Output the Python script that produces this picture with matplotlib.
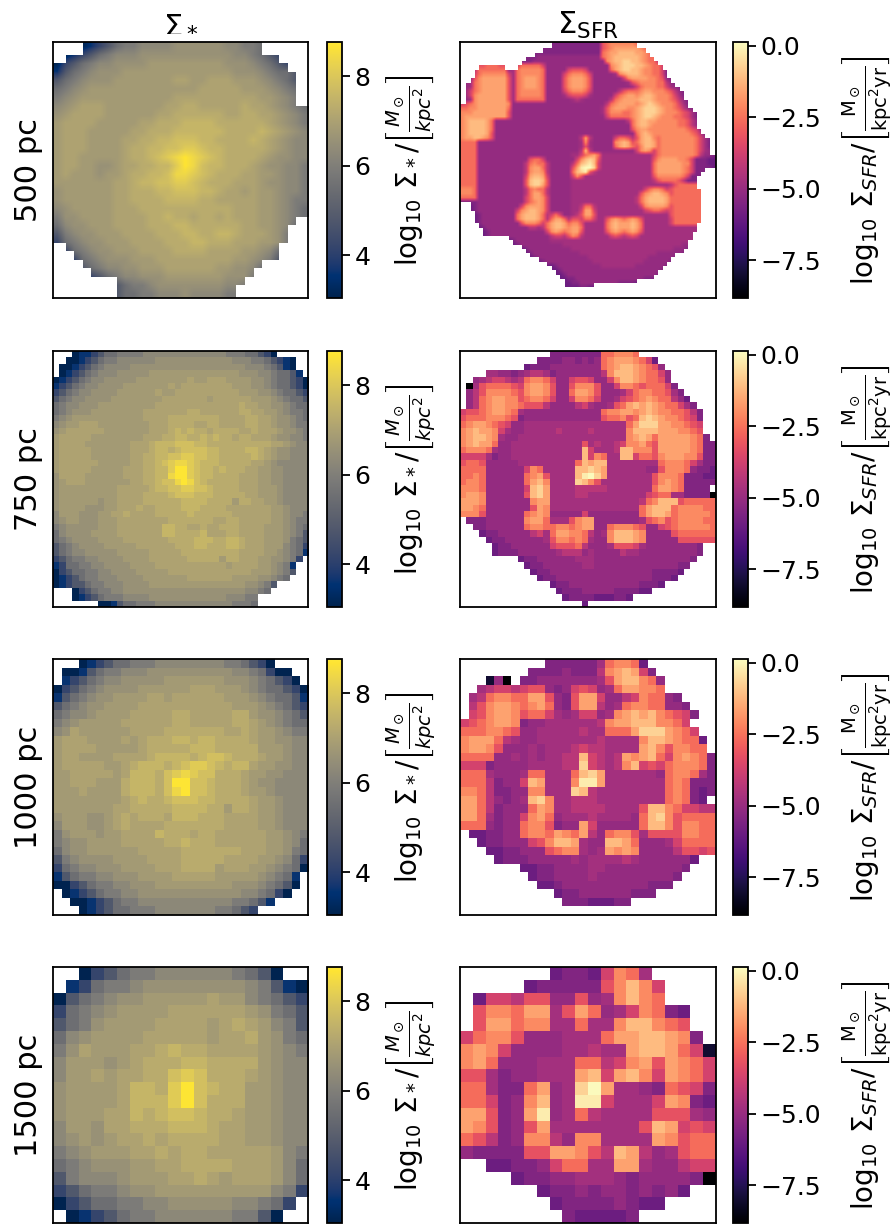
import re
import numpy as np
import matplotlib
matplotlib.use('Agg')
import matplotlib.pyplot as plt

resolutions = ['500 pc', '750 pc', '1000 pc', '1500 pc']

# one letter per cell, "." is no data, "12c" is twelve cells of c
stellar_levels = {'A': 3.1, 'B': 3.6, 'C': 4.2, 'D': 4.8, 'E': 5.5, 'F': 5.9, 'G': 6.3, 'H': 6.55,
                  'I': 6.8, 'J': 7.05, 'K': 7.3, 'L': 7.55, 'M': 7.8, 'N': 8.1, 'O': 8.4, 'P': 8.7}
sfr_levels = {'K': -8.8, 'z': -8.0, 'a': -5.95, 'b': -5.5, 'c': -5.05, 'd': -4.75, 'e': -4.25, 'f': -3.7,
              'g': -3.2, 'h': -2.6, 'i': -2.05, 'j': -1.6, 'k': -1.15, 'l': -0.7, 'm': -0.2, 'n': 0.1}

stellar_500 = [
    "...ABCDEFFGGGGHHHHHHGGFFE.....",
    ".ABCDEFGGGHHHHHHHHHHHGGFEDC...",
    "ACDEFGGHHHHIIIIIIIIIHHHGFEDC..",
    "BDEFGHHHIIIIIIIIIIIIIHHHGFEED.",
    "DEFGHHHIIIIIIIJJIIJJJIIIHGFED.",
    "EFGHIIIIIIIIIIIIIJJJJJIIIHGFE.",
    "FGHIIIIIIIIIIIJJJJJJJJJJIIHGF.",
    "GHIJJJIIIIIIIJJKKJJJJJKJJIHGFE",
    "HIJJJJIIIIIIJJKKKKKKJJKKJJIHGF",
    "IJJJJIIIIIJJKKKLLLLKKKKKKJIHGF",
    "IJJJIIIIIJJKKKLLLLLLKKKKLKJIHG",
    "IJJJIIIIJJKKLLMMMLLKKKKLKJIHGG",
    "IJJJIIIIJKKLLMMNNMLLKKKKKJIHGG",
    "IJJIIIIIJKKLMNOPONMLKKKKJIHHGG",
    "IJJIIHHIJJKKLLNPOMLLKKKJIHHGGF",
    "IJIIIHIIJKKLLMOONMLKKKJJIIHGGF",
    "IIIIIIIJJKLLMMNNMLKKKJJJIHHGGF",
    "HIIIIIIJJKKKLLMMMLLKJJIJIIHGGF",
    "HIIIIIIJJKKKKLLLLKKJJJJJIIHGFF",
    "GHIIIIIJJJKKKKKKKKKKKJJJIIHGFE",
    "FHHIIIIJJJJKKLKKJKKJKJJJIIHGFE",
    "EGHHIIIJJJJKKKLLKKKKKKJJIIHGE.",
    "DFGHHIIIJJJJKKKLLKKLLKJJJIHF..",
    "CEFGHHIIIJJJJKKKLLKKKJJJIIHF..",
    ".CEFGHHIIIJJJJKKKKJJJJIIHGE...",
    "..CEFGHHHIIIJJJJJJJJJIIHGFD...",
    "...DEFGGHHIIIJJJJJJIIHHGE.....",
    "....CDEFGGHHHIIIIIIIHHHF......",
    ".......DEFFGHHHHHHHHGGF.......",
    ".......DEEFFGGGHGGGGFF........",
]
stellar_750 = [
    "...ABBCDEEFFFFGGGGGGGGGGGGGFFFEEDCA.....",
    "..AABCDEFFGGGGGGHHHHHHHHHHHHGGGFFEDCBA..",
    ".AABCDEFGGGGHHHHHHHHHHHHHHHHHHGGGFEDBA..",
    ".ABCDEFGGGHHHHHIIIIIIIIIIIIIIHHHGGFEEDB.",
    "ABCDEFGGHHHHHIIIIIIIIJIIJJJIIIIHHGFEEDCA",
    "BCDEFGGHHHHIIIIIIIJIJJJJJJJJIIIHHGFEEDCA",
    "CDEFGGHHHHIIIIIIJIIJJJJJJJJJJIIIHHGFEEDC",
    "DEFGGHHHHIIIIIIIIJJJJJJJIJJJJJJIIIHGFEED",
    "EFGGHHHIIIIIIIIIJJJJJJJJJJJJJKJJIIHHGFEE",
    "EFGHHHIIIIIIIIJJJJJJJKKJJJJJJKKJJIIHGFFE",
    "FGHIIIIIIIIIIIJJJJKKKKKKKKJJJJKKJJIHHGFE",
    "GHIIJJJIIIIIIIIJJJKKKKJJKKJJJJKKJJIHHGFF",
    "HIJJJJJJIIIIIIIJJJKLKLKKJKKKKJJKJJJIHHGF",
    "IJJJJJIIIIIIIIJJJKKLLKKLKLKKJKKJJJIHHGGF",
    "IJJJJIIIIIIIJJJKLLLMMMLLKKKKKKKKKKJJIHGG",
    "IJJJJJIIIIIIJJJKLLKLMMMMLLKKKKLLKJIHHGGG",
    "IJJJJJIIIIIIJJKKLLMMNNMMLLKKKKKLKJIHHGGG",
    "IJJJJJJIIIIIJJKKLMNOONMLLLKKKKKJJIHGGGGG",
    "IJJJJJIIIIIJJJKKLLNPPNMLLKLKKKJJIIHHGGGG",
    "HJJJJIIIIIIJJJKKLLOPPNMLLKKKKJJJIIHHGGGG",
    "HIJJJIIIIIIIJJKKLMMOPOMLKKKKKJJJIIHHGGGG",
    "HIIIIIIIIIJJJJJKLLMMNNMMLKKKKJJJIIIHGGGG",
    "HIIIIIIIIIJJJJKKKKLMMMLLLKKKKKJJIIIHGGGG",
    "HIIIIIIHIIJJJJKKKKKKLLLLKKKKIKKJJIIHGGGG",
    "HIIIIHHHIIJJJKJJKKKKLLLKKKKJJJJJJJIIHGGG",
    "GIIIHHHIIJJKJJJJKKKKKLKKKKKKJJJJJJIIHGGF",
    "GHIIHHHIIIJJJJJJJJKKKKKKKJJKKJJJJJIIHGFF",
    "FGHHHHHIIIJJJJJJJLLKKJJKJJKKKJJJJIIIHGFE",
    "EGHHHHIIIIJJJJJJJLLKKKKLJJJKKJJJJIIIHGFD",
    "EFGHHHHIIIIJJJJJJJKKKKLLLKKLLKJJJIIIHFED",
    "DEFGHHHHIIIIIJJJJJJKKKLLKKKLLKJJJIIIGFEC",
    "DEFGGHHHHHIIIIIJJJJJKKKKKKKKKJJJJIIHGFEB",
    "CDEFFGGHHHHIIIIJJJJJJKKKKKIKKJJJIIHHGFC.",
    "BCEEFFGGHHHHIIIIJJJJJJJJJJJIJJJJIIHGFB..",
    "ACDEEFFGGHHHHIIIIIJJJJJJJJJJJJJIIIHGFD..",
    "ABCDEFFGGGHHHHIIIIIIIJJJJJJJIIIIHHGFE...",
    "ABCDDEFFGGGHHHHIIIIIIIIIIIIIIIHHGFD.....",
    "...ACDEFFGGHHHHHHHHHHHHHHHHHHHGGFE......",
    "...ABCDEFFFGGGGHHHHHHHHHHHHGGGFF........",
    ".......AABDEEFFFGGGGGGGGGGGGFFFE........",
]
stellar_1000 = [
    "...ABCDEEFFFGGGGGGGGFFEDCA....",
    ".AABDEFFGGGHHHHHHHHHHGGFECAA..",
    ".BCDEFGGHHHHHIIIIIIIHHHGFEDCA.",
    "ACDEFGHHHHIIIIIIJJJIIIHGFEEDCA",
    "BDEFGHHIIIIJJIJJJJJJIIIHGFEEDB",
    "DEFGHHIIIIJJJJJJJJJJJIIIHGFEDC",
    "EFGGHIIIIJJJJJKKJJJJJKKIHHGFED",
    "FGHIIIIIJJJJJJKKJJJJJKKJIHGFEE",
    "GHJIIIIIIJJJJKKKKKKKJJKJIIHGFF",
    "IJJJIIIIJIJKKKLLKLLKKKKJIIHHGG",
    "IJJJJIIIIIJKKKKKLLLKKKKKIIIHGG",
    "IJJIIIIJJJJKLLLLKLMMLKKKJIIHGG",
    "IJJJJJIIJKLLLKLMNNMLKLLJIIHHGG",
    "IIJJJJJIJLLLKMNONMMKKKJIIHHGGG",
    "IIJJJIIIKLLLKMPPMMLKKKJIHHGGGG",
    "IIIJIIIIKLLLKMOPMMLKKKJIIHGGGG",
    "IIIIIIIIJKLKKLMMMLLKKKKJIIHGGG",
    "IIIIIIIJJKKKKKLLLLKKIKKJIIHGGG",
    "HIIIHHIJKJKKKJLLLKKKJJJJIIHGGG",
    "GIIIHHIJKJJJJKKKKKKKJJJJIIHGGG",
    "FHIIIHIIJJJJLKKKJKKJJJJJJIIHGF",
    "FGHHIIIIJJJJJKKLKKKJJJJJJIIHGE",
    "EGHHIIIIIIJJJJJKKKKKKKJJJIIHFE",
    "DFGHHHHIIIIJJJJKKKKKJJJJIIHGEC",
    "CEFGGHHHIIIIJJJKKKKIJJJIIHGFEA",
    "BDEFFGGHHHIIIIJJJJJIIIIIHGFEB.",
    "AACDEFFGGHHHIIIIIIIIIHHHGFEDA.",
    ".ABCDEFFGGHHHHHHHHHHHHGGFECA..",
    "..AABCDEFFGGGGGGGGGGGFFEDB....",
    "...ABCDEEFFFGGGGGGGFFEDC......",
]
stellar_1500 = [
    "..ACDEFFGGGGGGFEDA..",
    ".BCEFFGHHHHHHHHGFDBA",
    "ADEFGHHIIIIIJIIGFEDC",
    "CEFGHIIIIJJJJJJIHFED",
    "DEFHIIIIJJJJIJKJIGFD",
    "EGHIIIIJJJJJIJJKIHFE",
    "FHJIIIJJKLKKJJJJIHGF",
    "GIIIHIJKKKLLKKKKIHGG",
    "GIIJIJJKKMNMKKKJIHGG",
    "HIIIIJLLKNPMLKKIIHGG",
    "HIIIIJLLLNPMKKKIIHGG",
    "HIIIJJLKLMMLKKJIIHGG",
    "GIIHJJKKKLLLKJJIIHGG",
    "GHIHIJJKJKKKKJJIIHGG",
    "FGHIIIJJKJKKJJJJJIGF",
    "EFGHHHIIJJKKKKJJJIGE",
    "DFGGGHIIIJJKJIJJJIGE",
    "CDEFFGHHIIIIIIIIIGFC",
    "ACDEEFFGGHHHHHGGFEC.",
    ".ABCDEFFGGGGGGFFDA..",
]

sfr_500 = [
    "21.12bgh6ih18.", "19.14bghi6jih16.", "17.16bhi2j4k2jih15.", "15.3b15chij6kji2h14.",
    "14.3b17cij2k2l2kji2he13.", "4.2g3h2g2.f5hf15cijk3l2kji2hf12.",
    "3.e7hcdh5ih5cf3gf5chjk2l2kj2i2hfb11.", "3.fh6ifdh5ih4cfh3ihf5cdij3kj2i2hfb11.",
    "2.cgi6jgdhi3jih4cgi3jig7cfi4j2ihgcb10.", ".cdhi6jgdhi3jih4cgi3jig8cdgh4i2hecb9.",
    ".cdhi6jgdhi3jih4cgi3jig8ccdfh3i2hfdcb8.", ".dfhi6jgdh5ih4cfh3ihf6ceg3hi2j3ihgecb7.",
    ".dfi7jgdh5ih4cdf3gfd5cfhi2jij2kj3ihfdb7.", ".cdi7jgd7h6cded6cehi4j3kj3ihgecb6.",
    "fghi7ji22cehi4jijklkj3ihfdb6.", "2h2i7jh21cdgi3j2ijk3lkj2ihgecb5.",
    "3i8jg21cdg3i2hijk3lkj3ihgfdb4.", "i10jg22cf5hijk2lkj3i2hgfdb4.",
    "ij4kjh31cehj2k2j5i2hgec4.", "ij4kjh32chj2kj6i2hgec4.", "ij4kjh32cgi2j9ihgfc3.",
    "ij4kjg33chjkj9ihgeb2.", "i2j2kjig20ceje5cf2hgegj2kih8ihfdb.",
    "4hc23cdid5cijkjghj2kjh8ihfdb.", "4hc23cdgd5chjkjhgi2kjh8ihfdb.",
    "4hc23ceke10cfijifh8ihfdc.", "4hc21c2dfhijh12dfh8iheccb",
    "4hc11cg2hf7cfiklkg12dgi4j2ihf3b2a", "4hc10cehi2he5cehklmkf12dh6j2if3b2a",
    "4hc10cei2jhe5cgjm2nlf12dh6jihf4ba", "4hc10cei2jie5chklmged12dh6jihf3b2.",
    "4hc10cfj2kjf5cfig4d12dg6ihf3b3.", "4hc10cgk2lkg5c19deg4hge3b4.",
    "4hc10cgk2ljg5c19d4deg5h4.", "3ihc10cehi2he5c15d2dfh2ihfg7h3.",
    "3ihc10ceh2jhe5c15ddgij2kjig7h3.", "4hc10cfh2jif5c15dehj4kj8h3.",
    "4bc10cfhijif5c15dehj4kj8h2b.", "2.ab10cfi3jif5c2de2he9ddfi4jig7h3.",
    "2.ab9cfij2kjif5c2df2jf9d2dfg2hgfg7h3.", "3.ab8chj3kjhefhf2cdeg2jg9d8dg7h3.",
    "3.ab8chj3kjheh2jhe2gf2hf2dgijihijigd5df7h3.", "3.ab9cg3ihfhj2kjh2ig5dhjk3jkjhd5df7h3.",
    "4.ab10c2edehj2kji2jh5dhjk3jkjhd12d4.", "5.ab13cfijihi2jg5dgijihijig13d4.",
    "5.ab14ce2fegihe6dfgfefgf13d5.", "11.ab8c34d5.", "12.ab10c28d2c6.", "14.ab10c24d3cb6.",
    "15.ab11c18d6cb7.", "16.ab12c14d6cb9.", "18.ab11c12d6cb10.", "20.2ab10c8d7cb11.",
    "21.2ab23cb12.", "22.2ab21cb13.", "23.2a2b16c3b14.", "24.2a2b9c4ba18.", "24.4a2b2a28.",
    "60.", "60.",
]
sfr_750 = [
    "..............bbbbbbbbhhiiih............",
    "............bbbbccbcbchijjjihfa.........",
    "..........abbbcccccccchijkkjihgc........",
    "....ddccbcdeedbccccccceikkkjihhfc.......",
    "..cdeffedehiihfccfggfccfikkjihhgc.......",
    ".Kdghhhhgfijjigccgiiigccfiihghhhfb......",
    ".cegiiiihgijjigcchjjigcccdfhiihhgdb.....",
    ".cehijjiighiihfccfiihfccdfghijihheca....",
    ".cehijjiihgggeccccefdccdghjkjkjihhfdb...",
    "fgghijjihdcccccccccccchiijjijkjiihhgeb..",
    "ghhhiiihgbccccccccccccghhighklkjiihgfb..",
    "hijjihgfccddddddddddddddddhjllljjiihgf..",
    "ijkjjifdccdddddeddddedddddikkkkjjjiihg..",
    "ijkkjidccdddddddddddddddddijkjhjjjjjihb.",
    "ijkjjhccdddddddddddgdeddefiijhgjjjjjihbb",
    "hiiihdccdddddddddddkfdddekkiiigjjjjjihbb",
    "ffffdbccdddddddddddkfihddkkfhhgijjjiigbb",
    "ghhgcccccdddddddddhkjkkddddddddhiiihfdbb",
    "hhhhccccccfihdddddkklkjddddddccgiiihcbba",
    "hhihcccccchijgddddkmnljdddddddgiiihbbbaa",
    "hiihcccccchjkiddddlkigddddddddgijihbbbbb",
    "iiihccccccfkljddddeeeeedddddddhjjihbbbb.",
    "ijjiccccccgkljddddeedddddddddfghhddbbbbK",
    "jjjicccccccijjddddddddddddddehikkkghhhhh",
    "jjihcccccccgjiddddddddddddddhjkkkhiiiihh",
    "iiigcccccchijicccccfcccccccchjkkjhiiiiih",
    ".bbbccccccijjhdddgijjcccccccdghighiiiihh",
    "..bbcccccchiihhiihijjcchiiihgccfghiiiiih",
    "...abbcccccefdhjjiihecdikkkjiccccghhhhhh",
    "....abbccccccdgiihihdccikkkjicccccgggggg",
    ".....abbccccccfggghecccdgggfdccccccccb..",
    ".....abbbccccccdeeecdcccceddcccccccccb..",
    ".........abbccccccdddcccccccccccccccb...",
    "..........abbccccccddcccccccccccccbb....",
    "...........abbccccccccccccccccbbbba.....",
    "............abbcccccccccccccccbbba......",
    "..............abbcccccccccccbbba........",
    "...............abbbcccccbbbbaa..........",
    "................abbbbaaabba.............",
    "...................a....................",
]
sfr_1000 = [
    "..........bbbbbbdhiiha........",
    "........bbbbcbbbeijkjfb.......",
    "...zcK.bbcccccccdgjkkihc......",
    "..deffefggcbcfgfcdhjjiih......",
    ".dehiihhjjgcbgjjfccefihhcb....",
    ".egijjihijhcbgjjecdhiihhccb...",
    ".fgijjighhfdcdffcdijkjkihgfb..",
    "fghijjibccddddddeijjkkkiihf...",
    "hhhiihgccdddddeddhhhjllljihf..",
    "ijjjhedccdddddddeddddikkjihha.",
    "ijjigcccdcdddefeeddddjkigiihh.",
    "hhhhccdcdcddeekfedejijkhfijihb",
    "fffbccccddddeelfedeikfgfhiiihb",
    "hhhdcccdhhdddhkljddddddchiihdb",
    "hhhebccfkjdddimmjdddddddhihbbb",
    "iihebbcciidddlkeddddddddhihbab",
    "jjhecbcdkliddeeeddddddddhihba.",
    "jjhebccchjiddeeeeddddgkkihffee",
    "jjhdbccfijhcdddeddddchklighhhh",
    "hhhcbcchiigbccjfccccchkkigiihh",
    ".aabbcchiihjihjechiigdggggiihh",
    "..abbcccfgikkjdcckkjhcccdfhhhh",
    "...aabbcccghiidcdjijicccceggfg",
    "....abbbcccccdcddddedcccccca..",
    ".......aabbccccddcccccccccb...",
    "........abbccccdcccccccccb....",
    ".........aabccccccccccbbb.....",
    "...........abbccccccbbb.......",
    "............bbbaaabb..........",
    "..............................",
]
sfr_1500 = [
    ".......abbafihd.....",
    ".....abbbbbgikif....",
    ".affeggccgcdikih....",
    ".giihjjdgjhcdfihba..",
    ".gjjhiiddhddikkihg..",
    "fhiigcccdddhjjkkjib.",
    "ijifccccddeddjkkjhfz",
    "ijhcccdddhhefijgjihf",
    "ggdbccdddjkfjkifjihf",
    "hhdbbhjcdlnjddcbhgfb",
    "hhfbcikcdmmfdddfjiba",
    "jjgbcjmcdheddddgggdc",
    "jigbcgjdddddddgkjfgf",
    "hgebciieciiddddjighh",
    "cbbbbggjjigekjecdghh",
    "..aabbcfhhddjjdcceff",
    "....abbccdddcbccccbK",
    "......abbcbccbcbca..",
    ".......abbbbcbaa....",
    "........baaaab......",
]

stellar_grids = [stellar_500, stellar_750, stellar_1000, stellar_1500]
sfr_grids = [sfr_500, sfr_750, sfr_1000, sfr_1500]
grid_sizes = [60, 40, 30, 20]
stellar_sizes = [30, 40, 30, 20]

stellar_range = (3.04, 8.76)
sfr_range = (-8.83, 0.14)
stellar_ticks = [4, 6, 8]
sfr_ticks = [0.0, -2.5, -5.0, -7.5]

W, H = 896, 1228
row_tops = [42, 351, 659, 967]
row_height = 256


def to_array(rows, levels, size):
    out = np.full((size, size), np.nan)
    for r, row in enumerate(rows):
        row = re.sub(r'(\d+)(\D)', lambda m: m[2] * int(m[1]), row)
        row = row.ljust(size, '.')[:size]
        for c, ch in enumerate(row):
            if ch in levels:
                out[r, c] = levels[ch]
    return out


def add_axes(fig, x0, x1, top):
    return fig.add_axes([x0 / W, 1 - (top + row_height) / H, (x1 - x0) / W, row_height / H])


plt.rcParams['font.size'] = 18
plt.rcParams['axes.linewidth'] = 1.3
plt.rcParams['mathtext.default'] = 'regular'
plt.rcParams['mathtext.fontset'] = 'dejavusans'

fig = plt.figure(figsize=(W / 100, H / 100), dpi=100)

for i, top in enumerate(row_tops):
    ax = add_axes(fig, 53, 308, top)
    data = to_array(stellar_grids[i], stellar_levels, stellar_sizes[i])
    interp = 'bilinear' if i == 0 else 'nearest'
    im = ax.imshow(data, cmap='cividis', vmin=stellar_range[0], vmax=stellar_range[1], aspect='auto',
                   interpolation=interp)
    ax.set_xticks([])
    ax.set_yticks([])
    ax.set_ylabel(resolutions[i], fontsize=22, labelpad=7)
    if i == 0:
        ax.set_title(r'$\Sigma_*$', fontsize=22, pad=8)
    cax = add_axes(fig, 327, 342, top)
    cb = fig.colorbar(im, cax=cax)
    cb.set_ticks(stellar_ticks)
    cb.ax.tick_params(length=5.5, width=1.3, labelsize=18)
    cb.set_label(r'$\log_{10}\,\Sigma_*/\left[\frac{\mathit{M}_\odot}{\mathit{kpc}^2}\right]$', fontsize=20, labelpad=10)

    ax = add_axes(fig, 460, 716, top)
    data = to_array(sfr_grids[i], sfr_levels, grid_sizes[i])
    interp = 'bilinear' if i == 0 else 'nearest'
    im = ax.imshow(data, cmap='magma', vmin=sfr_range[0], vmax=sfr_range[1], aspect='auto',
                   interpolation=interp)
    ax.set_xticks([])
    ax.set_yticks([])
    if i == 0:
        ax.set_title(r'$\Sigma_{\mathrm{SFR}}$', fontsize=22, pad=6)
    cax = add_axes(fig, 733, 748, top)
    cb = fig.colorbar(im, cax=cax)
    cb.set_ticks(sfr_ticks)
    cb.ax.tick_params(length=5.5, width=1.3, labelsize=18)
    cb.set_label(r'$\log_{10}\,\Sigma_{\mathit{SFR}}/\left[\frac{\mathrm{M}_\odot}{\mathrm{kpc}^2\mathrm{yr}}\right]$',
                 fontsize=20, labelpad=14)

fig.savefig('out.png', dpi=100)
